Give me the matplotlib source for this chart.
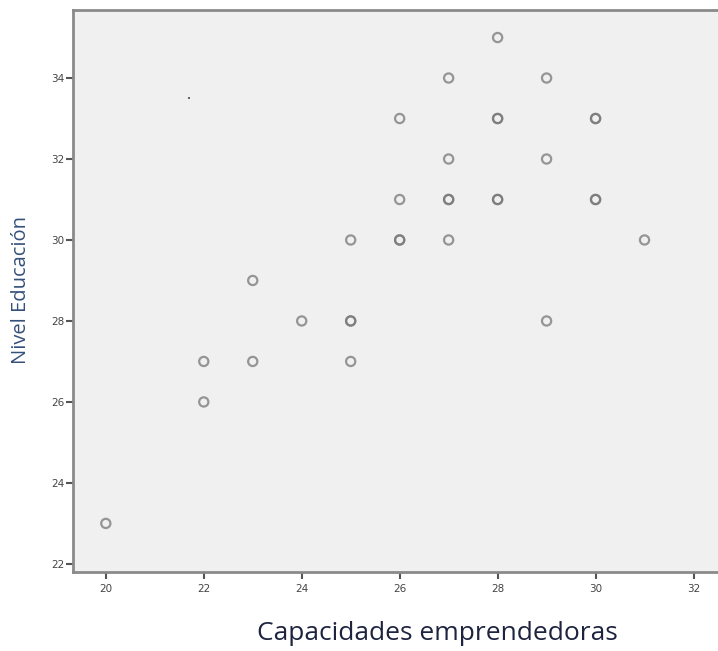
import matplotlib
matplotlib.use("Agg")
import matplotlib.pyplot as plt

# Data (duplicates reproduce the darker overlapped markers)
capacidades = [20, 22, 22, 23, 23, 24, 25, 25, 25, 25, 26, 26, 26, 26,
               27, 27, 27, 27, 27, 28, 28, 28, 28, 28, 29, 29, 29, 30, 30, 30, 30, 31]
educacion   = [23, 27, 26, 29, 27, 28, 30, 28, 28, 27, 33, 31, 30, 30,
               34, 32, 31, 31, 30, 35, 33, 33, 31, 31, 34, 32, 28, 33, 33, 31, 31, 30]
stray_x = [21.7]
stray_y = [33.5]

x_ticks = [20, 22, 24, 26, 28, 30, 32]
y_ticks = [22, 24, 26, 28, 30, 32, 34]

fig = plt.figure(figsize=(7.18, 6.51), dpi=100)
W, H = 718, 651
left, right, top, bottom = 73, 718, 10, 572
ax = fig.add_axes([left / W, 1 - bottom / H, (right - left) / W, (bottom - top) / H])
ax.set_facecolor("#f0f0f0")

ax.scatter(capacidades, educacion, s=44, facecolors="none",
           edgecolors="#777777", linewidths=1.6, alpha=0.75, zorder=3)
ax.scatter(stray_x, stray_y, s=3, color="#666666", marker="s", linewidths=0, zorder=3)

ax.set_xlim(19.33, 32.5)
ax.set_ylim(21.8, 35.68)
ax.set_xticks(x_ticks)
ax.set_yticks(y_ticks)
ax.tick_params(axis="both", direction="out", length=5, width=1.5, color="#555555",
               labelsize=7.5, labelcolor="#444444")
ax.tick_params(axis="x", pad=4)
ax.tick_params(axis="y", pad=1)

for side in ["left", "bottom", "top"]:
    ax.spines[side].set_color("#8a8a8a")
    ax.spines[side].set_linewidth(2)
ax.spines["right"].set_visible(False)

fig.text(21 / W, 1 - 290 / H, "Nivel Educación", rotation=90, ha="center", va="center",
         fontsize=14.5, color="#34507a", family="Open Sans")
fig.text(437 / W, 1 - 633 / H, "Capacidades emprendedoras", ha="center", va="center",
         fontsize=19, color="#1e2440", family="Open Sans")

fig.savefig("out.png", dpi=100, facecolor="white")
